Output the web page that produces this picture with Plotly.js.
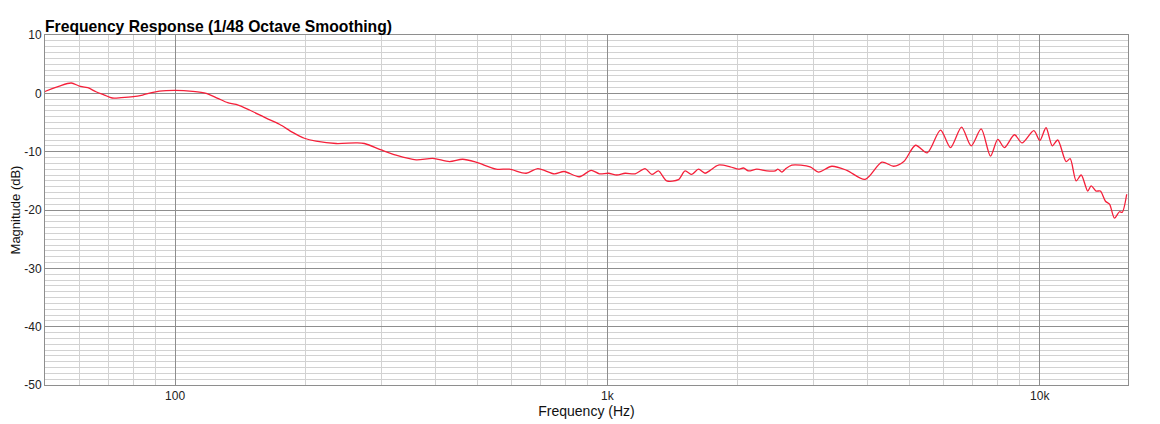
<!DOCTYPE html>
<html>
<head>
<meta charset="utf-8">
<script src="https://cdn.plot.ly/plotly-3.0.1.min.js"></script>
<style>
html,body{margin:0;padding:0;background:#fff;}
#chart{width:1160px;height:424px;}
</style>
</head>
<body>
<div id="chart"></div>
<script>
// Frequency (Hz)
var freqHz = [50, 50.3, 54, 57.5, 60, 62.8, 65.6, 68.6, 71.5, 75, 80, 84.1, 89.5, 95.3, 100,
  109.8, 118, 125.5, 132.3, 138.4, 148.6, 162.4, 174.3, 187, 199, 211.8, 235.7, 262.2, 274,
  299.6, 324.4, 361, 394.5, 431, 462.4, 496.6, 552.7, 593, 648.6, 690, 754, 794, 861, 917, 958,
  1005, 1051, 1099, 1159, 1222, 1267, 1312, 1371, 1459, 1512, 1567, 1624, 1682, 1728, 1806,
  1923, 2010, 2064, 2119, 2216, 2337, 2443, 2478, 2533, 2577, 2670, 2944, 3077, 3304, 3578,
  3945, 4313, 4592, 4848, 5160, 5491, 5894, 6217, 6592, 6940, 7319, 7691, 7998, 8283, 8740,
  9100, 9688, 10000, 10340, 10690, 11005, 11507, 11757, 12140, 12470, 12912, 13150, 13500,
  13810, 14190, 14500, 14890, 15290, 15510, 15890];
// Magnitude (dB)
var magDb = [0.3, 0.4, 1.25, 1.77, 1.25, 0.96, 0.27, -0.29, -0.8, -0.75, -0.58, -0.29, 0.22, 0.45, 0.51,
  0.34, 0, -0.86, -1.6, -1.9, -2.86, -4.25, -5.3, -6.7, -7.7, -8.2, -8.6, -8.5, -8.6,
  -9.7, -10.6, -11.4, -11.15, -11.7, -11.3, -11.8, -13.0, -13.0, -13.7, -12.9, -13.8, -13.4, -14.3, -13.2, -13.8,
  -13.7, -14.0, -13.7, -13.8, -12.9, -13.9, -13.3, -15.0, -14.8, -13.3, -13.9, -13.0, -13.7, -13.2, -12.3,
  -12.6, -13.0, -12.8, -13.3, -13.0, -13.3, -13.3, -13.0, -13.5, -13.0, -12.3, -12.6, -13.5, -12.5, -13.2,
  -14.75, -11.8, -12.5, -11.7, -8.9, -10.2, -6.3, -9.3, -5.8, -9.0, -6.1, -10.75, -7.9, -9.3, -7.1,
  -8.5, -6.4, -8.1, -5.9, -9.0, -8.0, -11.7, -11.2, -15.0, -14.0, -16.75, -15.85, -16.75,
  -16.75, -18.5, -19.0, -21.4, -20.3, -20.4, -17.3];

var xMajorVals = [100, 1000, 10000];
var xMajorText = ['100', '1k', '10k'];
var yMajorVals = [10, 0, -10, -20, -30, -40, -50];
var yMajorText = ['10', '0', '-10', '-20', '-30', '-40', '-50'];

var xMinorVals = [];
[10, 100, 1000, 10000].forEach(function (d) {
  for (var m = 2; m <= 9; m++) { if (d * m > 50 && d * m < 16000) xMinorVals.push(d * m); }
});

var fontFam = '"Liberation Sans", Arial, Helvetica, sans-serif';

var trace = {
  x: freqHz, y: magDb, type: 'scatter', mode: 'lines',
  line: {color: '#f5203a', width: 1.3, shape: 'spline', smoothing: 0.8},
  hoverinfo: 'x+y'
};

var layout = {
  width: 1160, height: 424,
  margin: {l: 45, r: 32, t: 35, b: 39, pad: 0},
  paper_bgcolor: '#ffffff', plot_bgcolor: '#ffffff',
  font: {family: fontFam, size: 12, color: '#222'},
  showlegend: false,
  title: {
    text: '<b>Frequency Response (1/48 Octave Smoothing)</b>',
    font: {family: fontFam, size: 15.7, color: '#000'},
    xref: 'paper', x: 0, xanchor: 'left',
    yref: 'container', y: 1 - 26.5 / 424, yanchor: 'middle'
  },
  xaxis: {
    type: 'log',
    range: [Math.log10(50), Math.log10(16000)],
    tickvals: xMajorVals, ticktext: xMajorText,
    ticks: '', showgrid: true, gridcolor: '#8e8e8e', gridwidth: 1,
    showline: true, mirror: true, linecolor: '#8e8e8e', linewidth: 1,
    zeroline: false,
    tickfont: {family: fontFam, size: 12, color: '#222'},
    minor: {tickvals: xMinorVals, showgrid: true, gridcolor: '#d2d2d2', gridwidth: 1, ticks: ''},
    title: {text: 'Frequency (Hz)', font: {family: fontFam, size: 14, color: '#111'}, standoff: 1}
  },
  yaxis: {
    range: [-50, 10],
    tickvals: yMajorVals, ticktext: yMajorText,
    ticks: '', showgrid: true, gridcolor: '#8e8e8e', gridwidth: 1,
    showline: true, mirror: true, linecolor: '#8e8e8e', linewidth: 1,
    zeroline: false,
    tickfont: {family: fontFam, size: 12, color: '#222'},
    minor: {dtick: 1, tick0: 0, showgrid: true, gridcolor: '#d2d2d2', gridwidth: 1, ticks: ''},
    title: {text: 'Magnitude (dB)', font: {family: fontFam, size: 13, color: '#111'}, standoff: 0}
  }
};

Plotly.newPlot('chart', [trace], layout, {displayModeBar: false});
</script>
</body>
</html>
